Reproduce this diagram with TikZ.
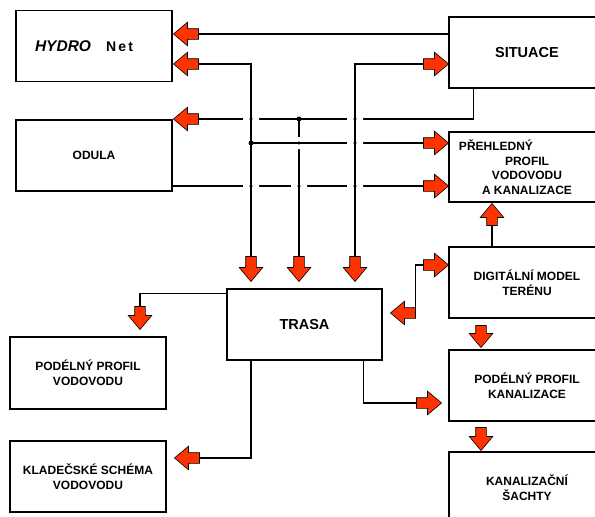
\documentclass[tikz,border=0pt]{standalone}
\usepackage{fontspec}
\setmainfont{Liberation Sans}
\usetikzlibrary{shapes.arrows,calc}
\definecolor{arrred}{RGB}{255,51,0}
\tikzset{
  box/.style={draw,line width=1.5pt,rectangle,inner sep=0pt,
    minimum width=156pt,minimum height=71pt,align=center,
    font=\bfseries\fontsize{12}{14.6}\selectfont},
  flow/.style={line width=1.3pt},
  blk/.style={single arrow,draw=black,line width=0.6pt,fill=arrred,
    inner sep=5pt,minimum height=25pt,single arrow head extend=6.5pt,
    single arrow tip angle=80,anchor=tip},
  toL/.style={blk,shape border rotate=180},
  toR/.style={blk,shape border rotate=0},
  toD/.style={blk,shape border rotate=270},
  toU/.style={blk,shape border rotate=90},
  dot/.style={circle,fill,inner sep=0pt,minimum size=5pt}
}
% gaps where a line passes under another one
\newcommand\hgap[2]{\fill[white] (#1-8,#2-2) rectangle (#1-1.4,#2+2)
  (#1+1.4,#2-2) rectangle (#1+8,#2+2);}
\newcommand\vgap[2]{\fill[white] (#1-2,#2-6) rectangle (#1+2,#2-1.4)
  (#1-2,#2+1.4) rectangle (#1+2,#2+6);}
\begin{document}
\begin{tikzpicture}[x=1pt,y=-1pt,line cap=butt]
\useasboundingbox (0,0) rectangle (595,517);
\clip (0,0) rectangle (595,517);
% boxes
\node[box] (hyd) at (94,46) {\fontsize{15.5}{16}\selectfont\itshape HYDRO\hspace{15pt}%
  {\fontsize{14}{14}\selectfont\upshape N\hspace{2.2pt}e\hspace{2.2pt}t}\hspace*{20pt}};
\node[box,font=\bfseries\fontsize{12}{14}\selectfont] (odu) at (94,155.5) {ODULA};
\node[box,font=\bfseries\fontsize{14.5}{16}\selectfont] (sit) at (527,52.5) {SITUACE};
\node[box,minimum height=70pt] (pre) at (527,167)
  {PŘEHLEDNÝ\hspace*{62pt}\\PROFIL\\VODOVODU\\A KANALIZACE};
\node[box] (dmt) at (527,282.5) {DIGITÁLNÍ MODEL\\TERÉNU};
\node[box] (ppk) at (527,385.5) {PODÉLNÝ PROFIL\\KANALIZACE};
\node[box] (ksa) at (527,487.5) {KANALIZAČNÍ\\ŠACHTY};
\node[box,minimum width=155pt,font=\bfseries\fontsize{14.5}{16}\selectfont] (tra) at (304.5,324.5) {TRASA};
\node[box,minimum height=72pt] (ppv) at (88,373) {PODÉLNÝ PROFIL\\VODOVODU};
\node[box] (ksv) at (88,476.5) {KLADEČSKÉ SCHÉMA\\VODOVODU};
% red block arrows
\node[toL] (aH1) at (173,34) {};
\node[toL] (aH2) at (173,64) {};
\node[toL] (aO) at (173,119) {};
\node[toR] (aS) at (449,64) {};
\node[toR] (aP1) at (449,143) {};
\node[toR] (aP2) at (449,186) {};
\node[toD] (aT1) at (251,282) {};
\node[toD] (aT2) at (299,282) {};
\node[toD] (aT3) at (355,282) {};
\node[toU,minimum height=22pt] (aU) at (492,203) {};
\node[toR] (aD) at (449,265) {};
\node[toL] (aTr) at (390,313) {};
\node[toD,minimum height=22pt] (aDP) at (481,348) {};
\node[toD,minimum height=23pt] (aPK) at (481,451) {};
\node[toR] (aK) at (442,403) {};
\node[toD,minimum height=23pt] (aV) at (140,330) {};
\node[toL] (aKS) at (174,458) {};
% junctions
\coordinate (j1) at (aT2.tail |- aO.tail);
\coordinate (j2) at (aT1.tail |- aP1.tail);
\coordinate (sitfoot) at ($(sit.south west)+(25,0)$);
% connectors
\draw[flow] (aH1.tail) -- (aH1.tail -| sit.west);
\draw[flow] (aH2.tail) -| (aT1.tail);
\draw[flow] (aO.tail) -| (sitfoot);
\draw[flow] (j1) -- (aT2.tail);
\draw[flow] (j2) -- (aP1.tail);
\draw[flow] (odu.east |- aP2.tail) -- (aP2.tail);
\draw[flow] (aS.tail) -| (aT3.tail);
\draw[flow] (aU.tail) -- (aU.tail |- dmt.north);
\draw[flow] (aD.tail) -| (aTr.tail);
\draw[flow] ($(tra.south east)+(-19,0)$) |- (aK.tail);
\draw[flow] ($(tra.north west)+(0,5)$) -| (aV.tail);
\draw[flow] (tra.south -| aT1.tail) |- (aKS.tail);
% crossings
\hgap{251}{119} \hgap{355}{119}
\vgap{299}{143} \hgap{355}{143}
\hgap{251}{186} \hgap{299}{186} \hgap{355}{186}
\node[dot] (d1) at (j1) {};
\node[dot] (d2) at (j2) {};
\end{tikzpicture}
\end{document}
